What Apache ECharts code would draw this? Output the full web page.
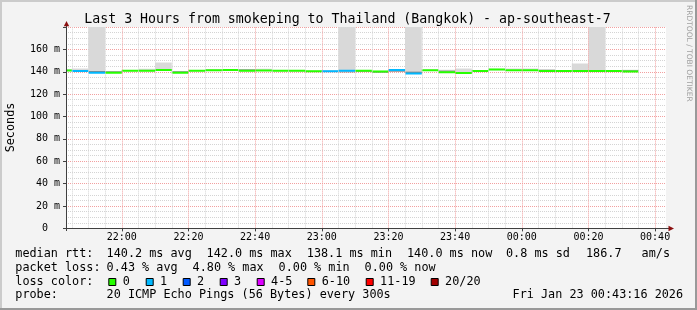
<!DOCTYPE html>
<html><head><meta charset="utf-8">
<script src="https://cdn.jsdelivr.net/npm/echarts@6/dist/echarts.min.js"></script>
<style>html,body{margin:0;padding:0;background:#f3f3f3}#c{width:697px;height:310px}</style>
</head><body><div id="c"></div>
<script>
// ---------- data ----------
const titleText = 'Last 3 Hours from smokeping to Thailand (Bangkok) - ap-southeast-7';
const rangeStart = '21:43:16';
const rangeEnd = '00:43:16';
const stepEnd = ['21:45','21:50','21:55','22:00','22:05','22:10','22:15','22:20','22:25','22:30',
  '22:35','22:40','22:45','22:50','22:55','23:00','23:05','23:10','23:15','23:20',
  '23:25','23:30','23:35','23:40','23:45','23:50','23:55','00:00','00:05','00:10',
  '00:15','00:20','00:25','00:30','00:35'];
const median = [141.2,140.6,139.0,139.2,141.0,141.0,141.5,139.2,141.0,141.3,
  141.5,141.0,141.2,141.0,140.8,140.5,140.5,140.8,141.0,140.3,
  141.5,138.4,141.3,139.6,138.9,140.6,142.0,141.3,141.3,140.6,
  140.6,140.6,140.6,140.6,140.2];
const lossCount = [0,1,1,0,0,0,0,0,0,0, 0,0,0,0,0,0,1,1,0,0, 1,1,0,0,0,0,0,0,0,0, 0,0,0,0,0];
const smokeLo = [140.4,140.0,139.0,138.8,140.4,140.4,140.8,138.8,140.4,140.6,
  140.8,140.4,140.6,140.4,140.2,140.0,140.0,139.8,140.0,139.5,
  140.0,138.0,140.6,139.2,138.4,140.0,141.4,140.7,140.7,140.0,
  140.0,140.0,140.0,140.0,139.8];
const smokeHi = [142.5,143.0,200,140.4,141.6,142.6,148.2,140.6,141.6,142.5,
  142.5,142.0,142.6,141.6,141.4,141.2,141.5,200,141.4,141.0,
  142.0,200,142.0,141.8,143.0,141.2,142.6,143.0,143.0,141.8,
  141.2,147.3,200,141.2,141.8];
const darkLo = [null,null,139.9,139.9,null,null,null,139.9,null,null,
  null,141.7,null,null,null,null,null,139.5,140.0,139.4,
  140.3,139.2,null,140.3,null,null,null,null,null,141.3,
  null,null,null,null,141.1];
const darkHi = [null,null,140.6,140.4,null,null,null,140.5,null,null,
  null,142.3,null,null,null,null,null,140.1,140.4,139.8,
  140.8,140.0,null,141.0,null,null,null,null,null,141.8,
  null,null,null,null,141.6];
const xTickLabels = ['22:00','22:20','22:40','23:00','23:20','23:40','00:00','00:20','00:40'];
const yMax = 180, yStep = 20;
const lossLegend = ['0','1','2','3','4-5','6-10','11-19','20/20'];
const lossColors = ['#26ff00','#00b8ff','#0059ff','#7e00ff','#dd00ff','#ff5500','#ff0000','#a10000'];
const rttRow = ['median rtt:','140.2 ms avg','142.0 ms max','138.1 ms min','140.0 ms now','0.8 ms sd','186.7','am/s'];
const lossRow = ['packet loss:','0.43 % avg','4.80 % max','0.00 % min','0.00 % now'];
const probeRow = ['probe:','20 ICMP Echo Pings (56 Bytes) every 300s','Fri Jan 23 00:43:16 2026'];
const yName = 'Seconds';
const watermark = 'RRDTOOL / TOBI OETIKER';

// ---------- layout ----------
const MONO = "'DejaVu Sans Mono', monospace";
const G = {left: 66, top: 27, width: 600, height: 201.4};
const rttX = [15.3,106.6,206.6,306.8,407,506,586,641.6];
const lossX = [15.3,106.6,192.6,278.6,364.6];
const boxX = [108.3,145.7,182.7,219.7,256.7,307.3,365.7,430.7];
const probeX = [15.3,106.6,512.6];
const rowY = [254.4,268,281.8,295.4];

function toMin(s){const p=s.split(':').map(Number);let m=p[0]*60+p[1]+(p[2]||0)/60;if(p[0]<12)m+=1440;return m-1260;}
const xMin = toMin(rangeStart), xMax = toMin(rangeEnd);
const majors = xTickLabels.map(toMin);
const minors = [];
for (let m = Math.ceil(xMin/5)*5; m <= xMax; m += 5) if (majors.indexOf(m) < 0) minors.push(m);
function bucket(n){ if(n<=3) return n; if(n<=5) return 4; if(n<=10) return 5; if(n<=19) return 6; return 7; }

const stepData = stepEnd.map((t,i)=>[toMin(t)-5, toMin(t), smokeLo[i], smokeHi[i], median[i], lossCount[i]]);
const darkData = stepEnd.map((t,i)=>[toMin(t)-5, toMin(t), darkLo[i]==null?'-':darkLo[i], darkHi[i]==null?'-':darkHi[i]]);

const graphic = [];
graphic.push({type:'rect',shape:{x:0,y:0,width:697,height:2},style:{fill:'#cbcbcb'},silent:true});
graphic.push({type:'rect',shape:{x:0,y:0,width:2,height:310},style:{fill:'#cbcbcb'},silent:true});
graphic.push({type:'rect',shape:{x:0,y:308,width:697,height:2},style:{fill:'#999999'},silent:true});
graphic.push({type:'rect',shape:{x:695,y:0,width:2,height:310},style:{fill:'#999999'},silent:true});
graphic.push({type:'text',x:347.5,y:19.5,style:{text:titleText,font:'13.25px '+MONO,fill:'#000',align:'center',verticalAlign:'middle'},silent:true});
graphic.push({type:'text',x:689,y:5,rotation:-Math.PI/2,style:{text:watermark,font:"7.5px 'DejaVu Sans'",fill:'#a0a0a0',align:'left',verticalAlign:'middle'},silent:true});
graphic.push({type:'text',x:10.5,y:127.5,rotation:Math.PI/2,style:{text:yName,font:'11.8px '+MONO,fill:'#000',align:'center',verticalAlign:'middle'},silent:true});
graphic.push({type:'line',shape:{x1:66.5,y1:231,x2:66.5,y2:25},style:{stroke:'#404040',lineWidth:1},silent:true,z:50});
graphic.push({type:'line',shape:{x1:63,y1:228.5,x2:669,y2:228.5},style:{stroke:'#404040',lineWidth:1},silent:true,z:50});
graphic.push({type:'polygon',shape:{points:[[66.5,21],[63.8,26.3],[69.2,26.3]]},style:{fill:'#8b1010'},silent:true,z:51});
graphic.push({type:'polygon',shape:{points:[[674,228.5],[668.5,225.8],[668.5,231.2]]},style:{fill:'#8b1010'},silent:true,z:51});
rttRow.forEach((t,i)=>graphic.push({type:'text',x:rttX[i],y:rowY[0],style:{text:t,font:'11.8px '+MONO,fill:'#000',verticalAlign:'middle'},silent:true}));
lossRow.forEach((t,i)=>graphic.push({type:'text',x:lossX[i],y:rowY[1],style:{text:t,font:'11.8px '+MONO,fill:'#000',verticalAlign:'middle'},silent:true}));
graphic.push({type:'text',x:15.3,y:rowY[2],style:{text:'loss color:',font:'11.8px '+MONO,fill:'#000',verticalAlign:'middle'},silent:true});
lossLegend.forEach((t,i)=>{
  graphic.push({type:'rect',shape:{x:boxX[i]+0.5,y:278.5,width:7,height:7},style:{fill:lossColors[i],stroke:'#000',lineWidth:1},silent:true});
  graphic.push({type:'text',x:boxX[i]+14.4,y:rowY[2],style:{text:t,font:'11.8px '+MONO,fill:'#000',verticalAlign:'middle'},silent:true});
});
probeRow.forEach((t,i)=>graphic.push({type:'text',x:probeX[i],y:rowY[3],style:{text:t,font:'11.8px '+MONO,fill:'#000',verticalAlign:'middle'},silent:true}));

function bandItem(color, loIdx, hiIdx){
  return (params, api)=>{
    const lo = api.value(loIdx), hi = api.value(hiIdx);
    if (isNaN(lo) || isNaN(hi)) return null;
    const p0 = api.coord([api.value(0), hi]);
    const p1 = api.coord([api.value(1), lo]);
    return {type:'rect', shape:{x:p0[0], y:p0[1], width:p1[0]-p0[0], height:p1[1]-p0[1]}, style:{fill:color}};
  };
}

const chart = echarts.init(document.getElementById('c'), null, {renderer:'canvas'});
chart.setOption({
  animation:false,
  backgroundColor:'#f3f3f3',
  grid:{left:G.left, top:G.top, width:G.width, height:G.height, show:true, backgroundColor:'#ffffff', borderWidth:0, containLabel:false, outerBoundsMode:'none'},
  xAxis:{type:'value', min:xMin, max:xMax,
    axisLine:{show:false},
    axisTick:{show:true, customValues:majors, length:3, lineStyle:{color:'#404040'}},
    axisLabel:{show:true, customValues:majors, margin:4, fontFamily:MONO, fontSize:10, color:'#000',
      formatter:(v)=>{const i=majors.findIndex(m=>Math.abs(m-v)<1e-6);return i>=0?xTickLabels[i]:'';}},
    splitLine:{show:false}},
  yAxis:{type:'value', min:0, max:yMax, interval:yStep,
    axisLine:{show:false},
    axisTick:{show:true, length:3, lineStyle:{color:'#404040'}},
    axisLabel:{margin:6, fontFamily:MONO, fontSize:10, color:'#000',
      formatter:(v)=> v===0 ? '0  ' : (v>=yMax ? '' : v+' m')},
    splitLine:{show:true, lineStyle:{color:'#f2a0a0', width:1, type:[1,1]}},
    minorTick:{show:false, splitNumber:4},
    minorSplitLine:{show:true, lineStyle:{color:'#d4d4d4', width:1, type:[1,1]}}},
  graphic: graphic,
  series:[
    {type:'line', data:[], z:1, silent:true,
      markLine:{silent:true, symbol:['none','none'], label:{show:false}, animation:false,
        lineStyle:{color:'#d4d4d4', width:1, type:[1,1]},
        data: minors.map(m=>({xAxis:m}))}},
    {type:'line', data:[], z:1, silent:true,
      markLine:{silent:true, symbol:['none','none'], label:{show:false}, animation:false,
        lineStyle:{color:'#f2a0a0', width:1, type:[1,1]},
        data: majors.map(m=>({xAxis:m}))}},
    {type:'custom', z:3, clip:true, silent:true, data:stepData,
      encode:{x:[0,1], y:[2,3]}, renderItem:bandItem('#d9d9d9',2,3)},
    {type:'custom', z:3, clip:true, silent:true, data:darkData,
      encode:{x:[0,1], y:[2,3]}, renderItem:bandItem('#6a6a6a',2,3)},
    {type:'custom', z:4, clip:true, silent:true, data:stepData,
      encode:{x:[0,1], y:4},
      renderItem:(params, api)=>{
        const p0 = api.coord([api.value(0), api.value(4)]);
        const p1 = api.coord([api.value(1), api.value(4)]);
        return {type:'line', shape:{x1:p0[0], y1:p0[1], x2:p1[0], y2:p1[1]},
          style:{stroke:lossColors[bucket(api.value(5))], lineWidth:2}};
      }}
  ]
});
</script></body></html>
